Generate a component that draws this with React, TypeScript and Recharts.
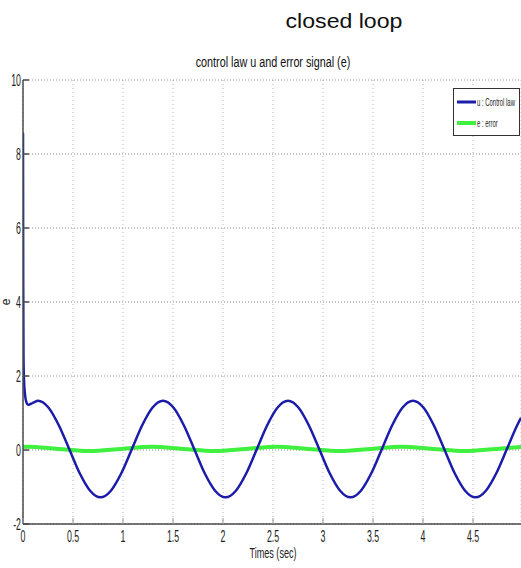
import React from 'react';
import { LineChart, Line, XAxis, YAxis, CartesianGrid, Customized, Label } from 'recharts';

// control law u(t)
const uTime = [
  0, 0.002, 0.005, 0.01, 0.02, 0.035, 0.05, 0.08, 0.11,
  0.150, 0.254, 0.358, 0.463, 0.567, 0.671, 0.775, 0.879, 0.983, 1.088, 1.192, 1.296,
  1.400, 1.504, 1.608, 1.713, 1.817, 1.921, 2.025, 2.129, 2.233, 2.338, 2.442, 2.546,
  2.650, 2.754, 2.858, 2.963, 3.067, 3.171, 3.275, 3.379, 3.483, 3.588, 3.692, 3.796,
  3.900, 4.004, 4.108, 4.213, 4.317, 4.421, 4.525, 4.629, 4.733, 4.838, 4.942, 4.98,
];
const uValue = [
  8.57, 4.6, 2.5, 1.9, 1.5, 1.28, 1.22, 1.25, 1.29,
  1.33, 1.15, 0.67, 0.02, -0.63, -1.1, -1.28, -1.1, -0.63, 0.02, 0.67, 1.15,
  1.33, 1.15, 0.67, 0.02, -0.63, -1.1, -1.28, -1.1, -0.63, 0.02, 0.67, 1.15,
  1.33, 1.15, 0.67, 0.02, -0.63, -1.1, -1.28, -1.1, -0.63, 0.02, 0.67, 1.15,
  1.33, 1.15, 0.67, 0.02, -0.63, -1.1, -1.28, -1.1, -0.63, 0.02, 0.67, 0.87,
];

// error e(t)
const eTime = [0, 0.04, 0.35, 0.665, 0.98, 1.29, 1.6, 1.915, 2.23, 2.54, 2.85, 3.165, 3.48, 3.79, 4.1, 4.415, 4.73, 4.98];
const eValue = [0.08, 0.09, 0.03, -0.03, 0.03, 0.09, 0.03, -0.03, 0.03, 0.09, 0.03, -0.03, 0.03, 0.09, 0.03, -0.03, 0.03, 0.08];

const xTicks = [0, 0.5, 1, 1.5, 2, 2.5, 3, 3.5, 4, 4.5];
const xTickLabels = ['0', '0.5', '1', '1.5', '2', '2.5', '3', '3.5', '4', '4.5'];
const yTicks = [-2, 0, 2, 4, 6, 8, 10];
const legendLabels = ['u : Control law', 'e : error'];

const uData = uTime.map((t, i) => ({ t, v: uValue[i] }));
const eData = eTime.map((t, i) => ({ t, v: eValue[i] }));

const FONT = '"Liberation Sans Narrow", "Liberation Sans", Arial, sans-serif';
const AXIS = '#4a4a4a';
const BLUE = '#1c1caa';
const GREEN = '#3ff03f';

const SText = ({ x, y, sx, size, anchor = 'start', children, rotate = 0, fill = '#222' }: any) => (
  <g transform={`translate(${x},${y}) rotate(${rotate}) scale(${sx},1)`}>
    <text x={0} y={0} fontSize={size} fontFamily={FONT} textAnchor={anchor} fill={fill}>
      {children}
    </text>
  </g>
);

const BottomTick = (props: any) => {
  const { x, y, payload } = props;
  const idx = xTicks.indexOf(payload.value);
  return (
    <g>
      <line x1={x} y1={y} x2={x} y2={y - 6} stroke="#999" strokeWidth={1} />
      <SText x={x} y={y + 18} sx={0.55} size={16} anchor="middle">
        {idx >= 0 ? xTickLabels[idx] : String(payload.value)}
      </SText>
    </g>
  );
};

const TopTick = (props: any) => {
  const { x, y } = props;
  return <line x1={x} y1={y} x2={x} y2={y + 6} stroke="#999" strokeWidth={1} />;
};

const LeftTick = (props: any) => {
  const { x, y, payload } = props;
  return (
    <g>
      <line x1={x} y1={y} x2={x + 6} y2={y} stroke={AXIS} strokeWidth={1.5} />
      <SText x={x - 2} y={y + 5.5} sx={0.55} size={16} anchor="end">
        {String(payload.value)}
      </SText>
    </g>
  );
};

const YLabel = (props: any) => {
  const vb = props.viewBox || { x: 0, y: 80, width: 23, height: 444 };
  return (
    <SText x={vb.x + 10} y={vb.y + vb.height / 2} sx={1} size={12} anchor="middle" rotate={-90}>
      e
    </SText>
  );
};

const Titles = () => (
  <g>
    <text x={344} y={28} fontSize={21} fontFamily='"Liberation Sans", Arial, sans-serif' textAnchor="middle" fill="#111"
      transform="translate(344,0) scale(1.1,1) translate(-344,0)">
      closed loop
    </text>
    <SText x={273} y={67} sx={0.72} size={15} anchor="middle" fill="#111">
      control law u and error signal (e)
    </SText>
    <SText x={273} y={558} sx={0.65} size={14} anchor="middle" fill="#222">
      Times (sec)
    </SText>
    <g transform="translate(453,88)">
      <rect x={0.5} y={0.5} width={66} height={47} fill="#fff" stroke="#333" strokeWidth={1} />
      <line x1={4} y1={14} x2={23} y2={14} stroke={BLUE} strokeWidth={3} />
      <SText x={24} y={18} sx={0.54} size={11}>{legendLabels[0]}</SText>
      <line x1={4} y1={35} x2={23} y2={35} stroke={GREEN} strokeWidth={4} />
      <SText x={24} y={39} sx={0.54} size={11}>{legendLabels[1]}</SText>
    </g>
  </g>
);

export default function App() {
  return (
    <div style={{ position: 'absolute', left: 0, top: 0, width: 521, height: 568, background: '#fff' }}>
      <LineChart width={521} height={568} margin={{ top: 80, right: 0, bottom: 0, left: 0 }}>
        <CartesianGrid horizontal={false} vertical={true} stroke="#b5b5b5" strokeDasharray="1 3" xAxisId="b" yAxisId="l" />
        <CartesianGrid horizontal={true} vertical={false} stroke="#8a8a8a" strokeDasharray="1 2" xAxisId="b" yAxisId="l" />
        <XAxis
          xAxisId="b"
          dataKey="t"
          type="number"
          domain={[0, 4.98]}
          ticks={xTicks}
          allowDataOverflow
          height={44}
          tickSize={0}
          tickMargin={0}
          tickLine={false}
          tick={<BottomTick />}
          axisLine={{ stroke: AXIS, strokeWidth: 1.5 }}
          interval={0}
        />
        <XAxis
          xAxisId="top"
          orientation="top"
          dataKey="t"
          type="number"
          domain={[0, 4.98]}
          ticks={xTicks}
          allowDataOverflow
          height={0}
          tickSize={0}
          tickMargin={0}
          tickLine={false}
          tick={<TopTick />}
          axisLine={{ stroke: AXIS, strokeWidth: 1.5 }}
          interval={0}
        />
        <YAxis
          yAxisId="l"
          type="number"
          domain={[-2, 10]}
          ticks={yTicks}
          width={23}
          tickSize={0}
          tickMargin={0}
          tickLine={false}
          tick={<LeftTick />}
          axisLine={{ stroke: AXIS, strokeWidth: 1.5 }}
          interval={0}
        >
          <Label content={<YLabel />} />
        </YAxis>
        <Line
          xAxisId="b"
          yAxisId="l"
          data={eData}
          dataKey="v"
          type="monotone"
          stroke={GREEN}
          strokeWidth={4}
          dot={false}
          isAnimationActive={false}
          name="e : error"
        />
        <Line
          xAxisId="b"
          yAxisId="l"
          data={uData}
          dataKey="v"
          type="monotone"
          stroke={BLUE}
          strokeWidth={2.5}
          dot={false}
          isAnimationActive={false}
          name="u : Control law"
        />
        <Customized component={<Titles />} />
      </LineChart>
    </div>
  );
}
